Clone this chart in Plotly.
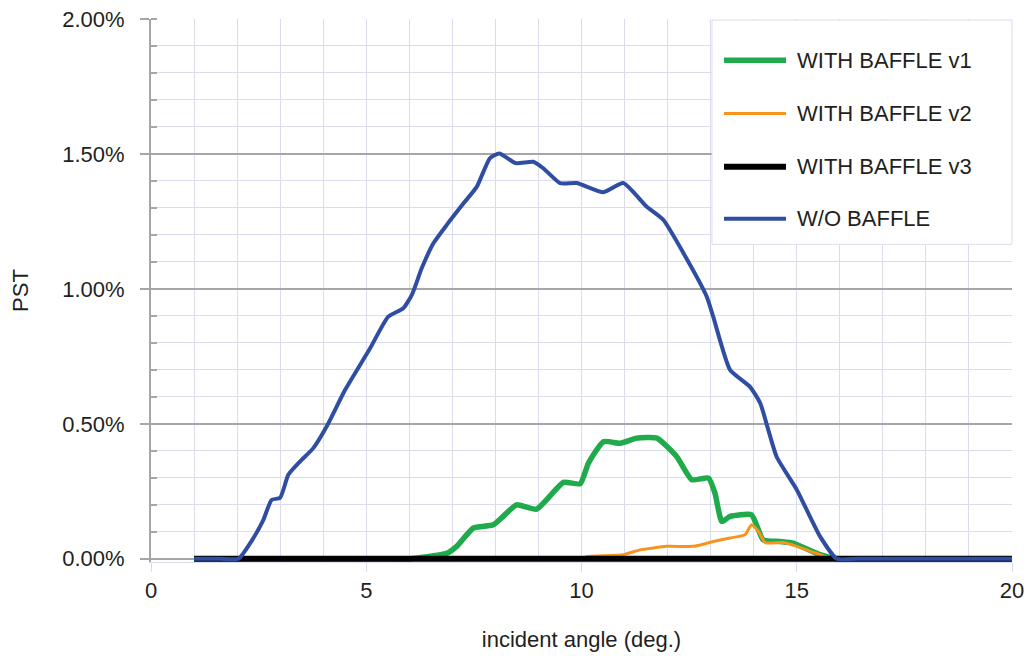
import plotly.graph_objects as go

# ---------------- data (PST in percent) ----------------
x_v1 = [1, 5.5, 6.02, 6.87, 7.1, 7.49, 7.95, 8.2, 8.49, 8.96, 9.58, 9.97, 10.16, 10.51, 10.9,
        11.28, 11.75, 12.21, 12.56, 12.95, 13.1, 13.26, 13.45, 13.95, 14.22, 14.61, 14.92,
        15.54, 15.93, 16.4, 18, 20]
y_v1 = [0, 0, 0, 0.02, 0.046, 0.114, 0.126, 0.16, 0.2, 0.184, 0.283, 0.278, 0.354, 0.434, 0.428,
        0.447, 0.447, 0.379, 0.293, 0.299, 0.243, 0.138, 0.157, 0.163, 0.07, 0.064, 0.058,
        0.015, 0, 0, 0, 0]

x_v2 = [1, 9.5, 10.0, 10.12, 10.97, 11.36, 11.98, 12.6, 13.06, 13.45, 13.8, 13.95, 14.11, 14.27,
        14.69, 15.0, 15.54, 15.85, 16.3, 18, 20]
y_v2 = [0, 0, 0, 0.008, 0.015, 0.033, 0.046, 0.046, 0.064, 0.077, 0.089, 0.126, 0.101, 0.06,
        0.06, 0.046, 0.015, 0, 0, 0, 0]

x_v3 = [1, 20]
y_v3 = [0, 0]

x_wo = [1.0, 1.6, 2.03, 2.38, 2.61, 2.80, 3.0, 3.19, 3.46, 3.77, 4.08, 4.51, 5.09, 5.51, 5.86,
        6.06, 6.29, 6.56, 6.87, 7.26, 7.57, 7.87, 8.09, 8.47, 8.88, 9.11, 9.5, 9.89, 10.51,
        10.97, 11.51, 11.9, 12.37, 12.91, 13.06, 13.45, 13.91, 14.15, 14.53, 15.0, 15.54,
        15.93, 16.4, 18, 20]
y_wo = [0, 0, 0, 0.077, 0.144, 0.218, 0.226, 0.311, 0.36, 0.41, 0.49, 0.626, 0.78, 0.897, 0.928,
        0.978, 1.077, 1.169, 1.237, 1.317, 1.379, 1.484, 1.502, 1.466, 1.471, 1.447, 1.392,
        1.392, 1.358, 1.392, 1.305, 1.256, 1.132, 0.971, 0.897, 0.7, 0.638, 0.577, 0.379,
        0.256, 0.083, 0, 0, 0, 0]

series_names = ["WITH BAFFLE v1", "WITH BAFFLE v2", "WITH BAFFLE v3", "W/O BAFFLE"]
x_ticks = [0, 5, 10, 15, 20]
y_ticks = [0, 0.5, 1.0, 1.5, 2.0]
y_ticklabels = ["0.00%", "0.50%", "1.00%", "1.50%", "2.00%"]

# ---------------- styles ----------------
colors = ["#1faa4b", "#f7941d", "#000000", "#2f4ea2"]
widths = [5.5, 3, 6, 4]
FONT = "Liberation Sans, Arial, sans-serif"
TXT = "#231f20"
LAV = "#dcdcef"
GRAY = "#a6a6a6"
FS = 22

fig = go.Figure()
xs = [x_v1, x_v2, x_v3, x_wo]
ys = [y_v1, y_v2, y_v3, y_wo]
for name, xx, yy, c, w in zip(series_names, xs, ys, colors, widths):
    fig.add_trace(go.Scatter(x=xx, y=yy, mode="lines", name=name,
                             line=dict(color=c, width=w, shape="spline", smoothing=0.5),
                             showlegend=False))

fig.update_layout(
    width=1031, height=656,
    margin=dict(l=151, r=19, t=19, b=94),
    paper_bgcolor="white", plot_bgcolor="white",
    font=dict(family=FONT, size=FS, color=TXT),
)
fig.update_xaxes(
    range=[0, 20], tickvals=x_ticks, ticks="outside", ticklen=9, tickcolor=LAV,
    showgrid=True, gridcolor=LAV, gridwidth=1, zeroline=False,
    showline=True, linecolor=LAV, linewidth=1, automargin=False,
    minor=dict(dtick=1, showgrid=True, gridcolor=LAV, gridwidth=1, ticks=""),
    title=dict(text="incident angle (deg.)", font=dict(size=FS), standoff=29),
    tickfont=dict(size=FS),
)
fig.update_yaxes(
    range=[-0.012, 2.0], tickvals=y_ticks, ticktext=y_ticklabels,
    ticks="outside", ticklen=9, tickcolor=GRAY, tickwidth=2, ticklabelstandoff=11,
    showgrid=True, gridcolor=GRAY, gridwidth=2, zeroline=False,
    showline=True, linecolor=GRAY, linewidth=2, automargin=False,
    minor=dict(dtick=0.1, showgrid=True, gridcolor=LAV, gridwidth=1,
               ticks="inside", ticklen=6, tickcolor=GRAY, tickwidth=2),
    title=dict(text="PST", font=dict(size=FS), standoff=28),
    tickfont=dict(size=FS),
)

# ---------------- manual legend ----------------
fig.add_shape(type="rect", xref="paper", yref="paper", x0=0.6516, x1=1.0, y0=0.585, y1=0.998,
              fillcolor="white", line=dict(color=LAV, width=1), layer="above")
row_y = [0.924, 0.826, 0.728, 0.632]
for name, c, w, ry in zip(series_names, colors, widths, row_y):
    fig.add_shape(type="line", xref="paper", yref="paper", x0=0.6655, x1=0.7375, y0=ry, y1=ry,
                  line=dict(color=c, width=w), layer="above")
    fig.add_annotation(xref="paper", yref="paper", x=0.7485, y=ry, text=name, showarrow=False,
                       xanchor="left", yanchor="middle", font=dict(size=FS, color=TXT))

fig.write_html("out.html")
